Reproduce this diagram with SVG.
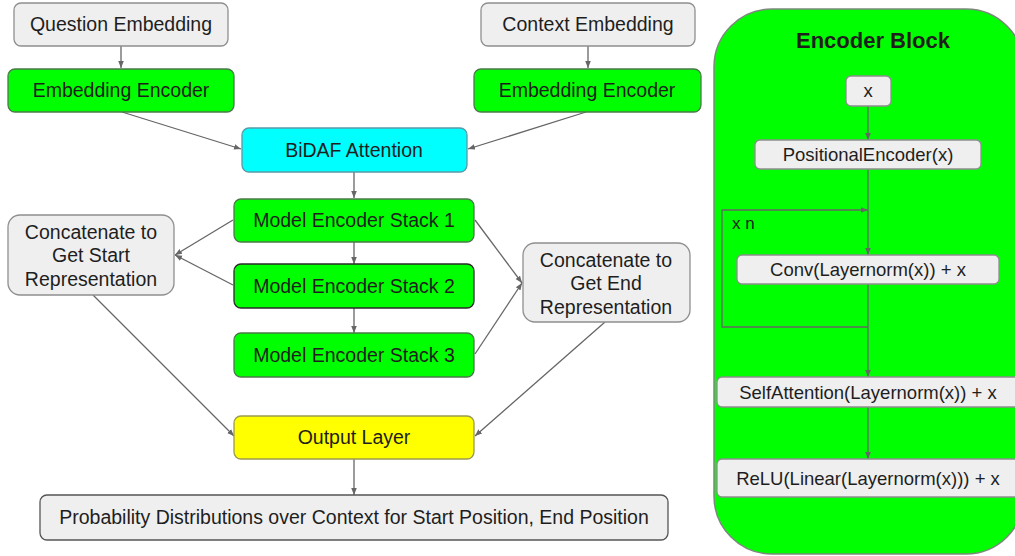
<svg xmlns="http://www.w3.org/2000/svg" width="1015" height="556" viewBox="0 0 1015 556">
<defs>
<marker id="arr" viewBox="0 0 10 10" refX="10" refY="5" markerWidth="7" markerHeight="7" markerUnits="userSpaceOnUse" orient="auto">
<path d="M0,1 L10,5 L0,9 z" fill="#666"/>
</marker>
</defs>
<style>
text{font-family:"Liberation Sans",Arial,sans-serif;fill:#1e1e1e;text-anchor:middle}
.t{font-size:19.5px}
.s{font-size:18.5px}
.gray{fill:#efefef;stroke:#8f8f8f;stroke-width:1.3}
.green{fill:#00ff00;stroke:#4a7a4a;stroke-width:1.3}
.cyan{fill:#00ffff;stroke:#5a9aa8;stroke-width:1.3}
.yellow{fill:#ffff00;stroke:#9a9a50;stroke-width:1.3}
.block{fill:#00ff00;stroke:#7a8a7a;stroke-width:1.5}
.c{fill:none;stroke:#666;stroke-width:1.3}
.ca{fill:none;stroke:#666;stroke-width:1.3;marker-end:url(#arr)}
</style>
<rect width="1015" height="556" fill="#ffffff"/>

<g id="encoder-block">
<rect class="block" x="714" y="9" width="310" height="545" rx="58"/>
<text x="873" y="48" style="font-size:22px;font-weight:bold">Encoder Block</text>
</g>

<g id="connectors">
<line class="ca" x1="121" y1="46" x2="121" y2="68"/>
<line class="ca" x1="588" y1="46" x2="588" y2="68"/>
<line class="ca" x1="122" y1="112" x2="241" y2="149"/>
<line class="ca" x1="586" y1="112" x2="468" y2="149"/>
<line class="ca" x1="354" y1="172" x2="354" y2="198"/>
<line class="ca" x1="354" y1="242" x2="354" y2="264"/>
<line class="ca" x1="354" y1="308" x2="354" y2="333"/>
<line class="ca" x1="233" y1="220" x2="175" y2="255"/>
<line class="ca" x1="233" y1="285" x2="175" y2="255"/>
<line class="ca" x1="475" y1="220" x2="522" y2="283"/>
<line class="ca" x1="475" y1="354" x2="522" y2="283"/>
<line class="ca" x1="93" y1="295" x2="234" y2="436"/>
<line class="ca" x1="605" y1="322" x2="475" y2="436"/>
<line class="ca" x1="354" y1="459" x2="354" y2="495"/>
<line class="ca" x1="868" y1="106" x2="868" y2="140"/>
<line class="c" x1="868" y1="169" x2="868" y2="210"/>
<line class="ca" x1="868" y1="210" x2="868" y2="255"/>
<polyline class="ca" points="868,327 722,327 722,210 868,210"/>
<line class="ca" x1="868" y1="284" x2="868" y2="377"/>
<line class="ca" x1="868" y1="407" x2="868" y2="459"/>
</g>

<g id="question-embedding">
<rect class="gray" x="14" y="3" width="214" height="43" rx="7"/>
<text class="t" x="121" y="31">Question Embedding</text>
</g>
<g id="context-embedding">
<rect class="gray" x="481" y="3" width="214" height="43" rx="7"/>
<text class="t" x="588" y="31">Context Embedding</text>
</g>
<g id="embedding-encoder-q">
<rect class="green" x="8" y="69" width="226" height="43" rx="7"/>
<text class="t" x="121" y="97">Embedding Encoder</text>
</g>
<g id="embedding-encoder-c">
<rect class="green" x="474" y="69" width="227" height="43" rx="7"/>
<text class="t" x="587" y="97">Embedding Encoder</text>
</g>
<g id="bidaf">
<rect class="cyan" x="242" y="128" width="225" height="44" rx="7"/>
<text class="t" x="354" y="157">BiDAF Attention</text>
</g>
<g id="mes1">
<rect class="green" x="234" y="199" width="240" height="43" rx="7"/>
<text class="t" x="354" y="227">Model Encoder Stack 1</text>
</g>
<g id="mes2">
<rect class="green" x="234" y="264" width="240" height="44" rx="7" style="stroke:#2a2a2a"/>
<text class="t" x="354" y="293">Model Encoder Stack 2</text>
</g>
<g id="mes3">
<rect class="green" x="234" y="333" width="240" height="44" rx="7"/>
<text class="t" x="354" y="362">Model Encoder Stack 3</text>
</g>
<g id="concat-start">
<rect class="gray" x="8" y="215" width="166" height="80" rx="12"/>
<text class="t" x="91" y="239">Concatenate to</text>
<text class="t" x="91" y="262">Get Start</text>
<text class="t" x="91" y="286">Representation</text>
</g>
<g id="concat-end">
<rect class="gray" x="523" y="243" width="167" height="79" rx="12"/>
<text class="t" x="606" y="267">Concatenate to</text>
<text class="t" x="606" y="290">Get End</text>
<text class="t" x="606" y="314">Representation</text>
</g>
<g id="output-layer">
<rect class="yellow" x="234" y="416" width="240" height="43" rx="7"/>
<text class="t" x="354" y="444">Output Layer</text>
</g>
<g id="probability">
<rect class="gray" x="40" y="495" width="628" height="45" rx="7" style="stroke:#555"/>
<text class="t" x="354" y="524">Probability Distributions over Context for Start Position, End Position</text>
</g>

<g id="x-input">
<rect class="gray" x="846" y="76" width="45" height="30" rx="5"/>
<text class="s" x="868" y="97">x</text>
</g>
<g id="positional-encoder">
<rect class="gray" x="755" y="140" width="226" height="29" rx="5"/>
<text class="s" x="868" y="161">PositionalEncoder(x)</text>
</g>
<g id="xn-label">
<text x="732" y="229" style="font-size:17px;text-anchor:start">x n</text>
</g>
<g id="conv">
<rect class="gray" x="737" y="255" width="262" height="29" rx="5"/>
<text class="s" x="868" y="276">Conv(Layernorm(x)) + x</text>
</g>
<g id="self-attention">
<rect class="gray" x="717" y="377" width="305" height="30" rx="5"/>
<text class="s" x="868" y="399">SelfAttention(Layernorm(x)) + x</text>
</g>
<g id="relu">
<rect class="gray" x="717" y="459" width="305" height="38" rx="5"/>
<text class="s" x="868" y="485">ReLU(Linear(Layernorm(x))) + x</text>
</g>
</svg>
